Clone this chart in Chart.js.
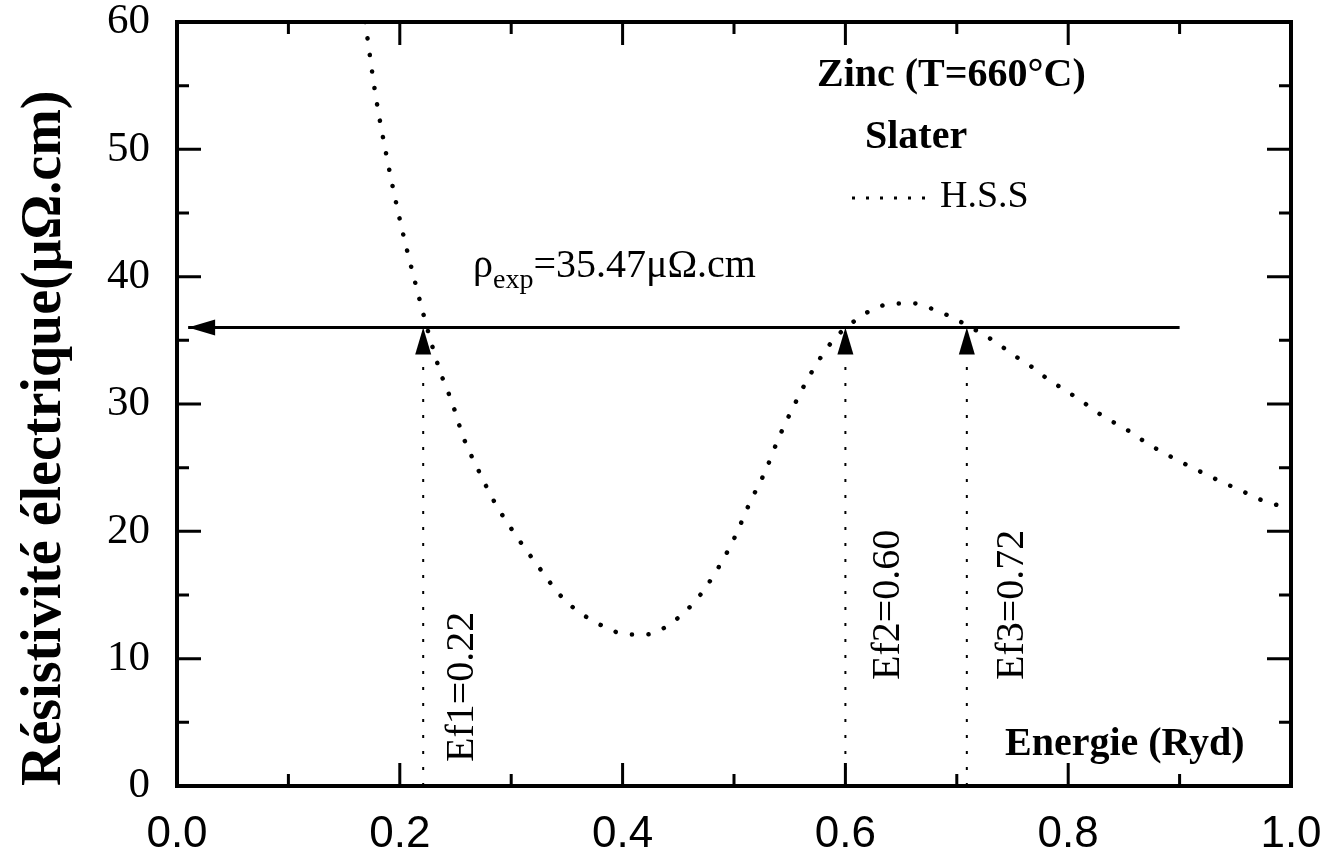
<!DOCTYPE html>
<html>
<head>
<meta charset="utf-8">
<script src="https://cdn.jsdelivr.net/npm/chart.js@4.4.1/dist/chart.umd.min.js"></script>
<style>
  html, body { margin: 0; padding: 0; background: #fff; }
  #wrap { width: 1332px; height: 851px; }
</style>
</head>
<body>
<div id="wrap"><canvas id="chart" width="1332" height="851"></canvas></div>
<script>
/* Zinc (T=660°C) — résistivité électrique vs énergie (Slater, H.S.S) */

// ============ DATA ============
const energy = [0.169, 0.178, 0.1885, 0.201, 0.2154, 0.227, 0.236, 0.247, 0.257, 0.270,
  0.285, 0.3025, 0.323, 0.347, 0.377, 0.406, 0.421, 0.435, 0.464, 0.485,
  0.501, 0.514, 0.528, 0.540, 0.554, 0.569, 0.589, 0.616, 0.632, 0.646,
  0.662, 0.677, 0.691, 0.721, 0.736, 0.750, 0.766, 0.781, 0.795, 0.811,
  0.825, 0.840, 0.856, 0.871, 0.885, 0.900, 0.916, 0.930, 0.945, 0.960,
  0.975, 0.990, 1.0];
const resistivity = [60, 54.4, 49.3, 44.1, 39.0, 35.2, 32.6, 30.1, 27.4, 24.9,
  22.3, 19.9, 17.4, 14.7, 12.8, 11.9, 11.9, 12.3, 14.4, 17.0,
  19.6, 22.2, 24.7, 27.3, 29.9, 32.4, 35.0, 37.0, 37.7, 37.9,
  37.9, 37.5, 37.0, 35.6, 34.8, 33.9, 33.0, 32.0, 31.2, 30.3,
  29.4, 28.6, 27.8, 26.9, 26.2, 25.5, 24.8, 24.2, 23.6, 23.0,
  22.4, 22.0, 21.7];

const rhoLineLevel = 36.0;          // where the horizontal arrow sits
const rhoLineFrom = 0.9;
const rhoLineTo = 0.01;
const fermiEnergies = [0.221, 0.600, 0.709];
const fermiLabels = ['Ef1=0.22', 'Ef2=0.60', 'Ef3=0.72'];

const xTickValues = [0, 0.2, 0.4, 0.6, 0.8, 1.0];
const yTickValues = [0, 10, 20, 30, 40, 50, 60];
const xMinorValues = [0.1, 0.3, 0.5, 0.7, 0.9];
const yMinorValues = [5, 15, 25, 35, 45, 55];

const SERIF = '"Liberation Serif", "Times New Roman", serif';
const SANS = '"Liberation Sans", Arial, sans-serif';

// ============ DECORATION PLUGIN ============
const decorations = {
  id: 'decorations',
  afterDraw(chart) {
    const { ctx, chartArea: a, scales: { x, y } } = chart;
    ctx.save();
    ctx.strokeStyle = '#000';
    ctx.fillStyle = '#000';
    ctx.setLineDash([]);

    // frame
    ctx.lineWidth = 4;
    ctx.strokeRect(a.left, a.top, a.right - a.left, a.bottom - a.top);

    // inward ticks on all four sides
    ctx.lineWidth = 3;
    const tick = (vals, len) => {
      vals.forEach(v => {
        const px = x.getPixelForValue(v);
        ctx.beginPath();
        ctx.moveTo(px, a.bottom); ctx.lineTo(px, a.bottom - len);
        ctx.moveTo(px, a.top); ctx.lineTo(px, a.top + len);
        ctx.stroke();
      });
    };
    const ytick = (vals, len) => {
      vals.forEach(v => {
        const py = y.getPixelForValue(v);
        ctx.beginPath();
        ctx.moveTo(a.left, py); ctx.lineTo(a.left + len, py);
        ctx.moveTo(a.right, py); ctx.lineTo(a.right - len, py);
        ctx.stroke();
      });
    };
    tick(xTickValues, 23); tick(xMinorValues, 12);
    ytick(yTickValues, 24); ytick(yMinorValues, 12);

    // arrow heads
    const tipY = y.getPixelForValue(rhoLineLevel);
    fermiEnergies.forEach(e => {
      const px = x.getPixelForValue(e);
      ctx.beginPath();
      ctx.moveTo(px, tipY);
      ctx.lineTo(px - 8, tipY + 27);
      ctx.lineTo(px + 8, tipY + 27);
      ctx.closePath();
      ctx.fill();
    });
    const tipX = x.getPixelForValue(rhoLineTo);
    ctx.beginPath();
    ctx.moveTo(tipX, tipY);
    ctx.lineTo(tipX + 27, tipY - 8);
    ctx.lineTo(tipX + 27, tipY + 8);
    ctx.closePath();
    ctx.fill();

    // texts
    ctx.textBaseline = 'middle';
    ctx.textAlign = 'left';
    ctx.font = 'bold 40px ' + SERIF;
    ctx.fillText('Zinc (T=660°C)', 817, 76);
    ctx.fillText('Slater', 865, 138);
    ctx.fillText('Energie (Ryd)', 1005, 745);

    ctx.font = '38px ' + SERIF;
    ctx.fillText('H.S.S', 940, 197);
    ctx.save();
    ctx.lineWidth = 3;
    ctx.setLineDash([3, 11]);
    ctx.beginPath();
    ctx.moveTo(852, 198); ctx.lineTo(936, 198);
    ctx.stroke();
    ctx.restore();

    // rho_exp label
    ctx.font = '40px ' + SERIF;
    ctx.fillText('ρ', 473, 266);
    let w = ctx.measureText('ρ').width;
    ctx.font = '28px ' + SERIF;
    ctx.fillText('exp', 473 + w, 281);
    w += ctx.measureText('exp').width;
    ctx.font = '40px ' + SERIF;
    ctx.fillText('=35.47μΩ.cm', 473 + w, 266);

    // Fermi energy labels, rotated
    ctx.font = '40px ' + SERIF;
    const labelStart = [762, 680, 680];
    const labelX = [462, 888, 1012];
    fermiLabels.forEach((t, i) => {
      ctx.save();
      ctx.translate(labelX[i], labelStart[i]);
      ctx.rotate(-Math.PI / 2);
      ctx.fillText(t, 0, 0);
      ctx.restore();
    });
    ctx.restore();
  }
};

// ============ CHART ============
const curve = energy.map((e, i) => ({ x: e, y: resistivity[i] }));
const verticals = fermiEnergies.map(e => ({
  data: [{ x: e, y: 0 }, { x: e, y: rhoLineLevel }],
  showLine: true,
  borderColor: '#000',
  borderWidth: 2,
  borderDash: [3, 13],
  pointRadius: 0
}));

new Chart(document.getElementById('chart'), {
  type: 'scatter',
  data: {
    datasets: [
      {
        label: 'H.S.S',
        data: curve,
        showLine: true,
        borderColor: '#000',
        borderWidth: 4.5,
        borderDash: [0.1, 16.5],
        borderCapStyle: 'round',
        cubicInterpolationMode: 'monotone',
        pointRadius: 0
      },
      {
        label: 'rho exp',
        data: [{ x: rhoLineFrom, y: rhoLineLevel }, { x: rhoLineTo, y: rhoLineLevel }],
        showLine: true,
        borderColor: '#000',
        borderWidth: 3,
        pointRadius: 0
      },
      ...verticals
    ]
  },
  options: {
    responsive: false,
    animation: false,
    devicePixelRatio: 1,
    layout: { padding: { top: 22, right: 41, left: 0, bottom: 0 } },
    plugins: { legend: { display: false }, tooltip: { enabled: false } },
    scales: {
      x: {
        type: 'linear',
        min: 0, max: 1,
        afterFit: s => { s.height = 65; s.paddingLeft = 0; s.paddingRight = 0; },
        afterBuildTicks: s => { s.ticks = xTickValues.map(v => ({ value: v })); },
        grid: { display: false, drawTicks: false },
        border: { display: false },
        ticks: {
          color: '#000',
          padding: 22,
          maxRotation: 0,
          autoSkip: false,
          font: { family: SANS, size: 44 },
          callback: v => v.toFixed(1)
        }
      },
      y: {
        min: 0, max: 60,
        afterFit: s => { s.width = 177; s.paddingTop = 0; s.paddingBottom = 0; },
        afterBuildTicks: s => { s.ticks = yTickValues.map(v => ({ value: v })); },
        grid: { display: false, drawTicks: false },
        border: { display: false },
        ticks: {
          color: '#000',
          padding: 27,
          font: { family: SERIF, size: 43 }
        },
        title: {
          display: true,
          text: 'Résistivité électrique(μΩ.cm)',
          color: '#000',
          align: 'start',
          padding: { top: 12, bottom: 0 },
          font: { family: SERIF, size: 56, weight: 'bold' }
        }
      }
    }
  },
  plugins: [decorations]
});
</script>
</body>
</html>
